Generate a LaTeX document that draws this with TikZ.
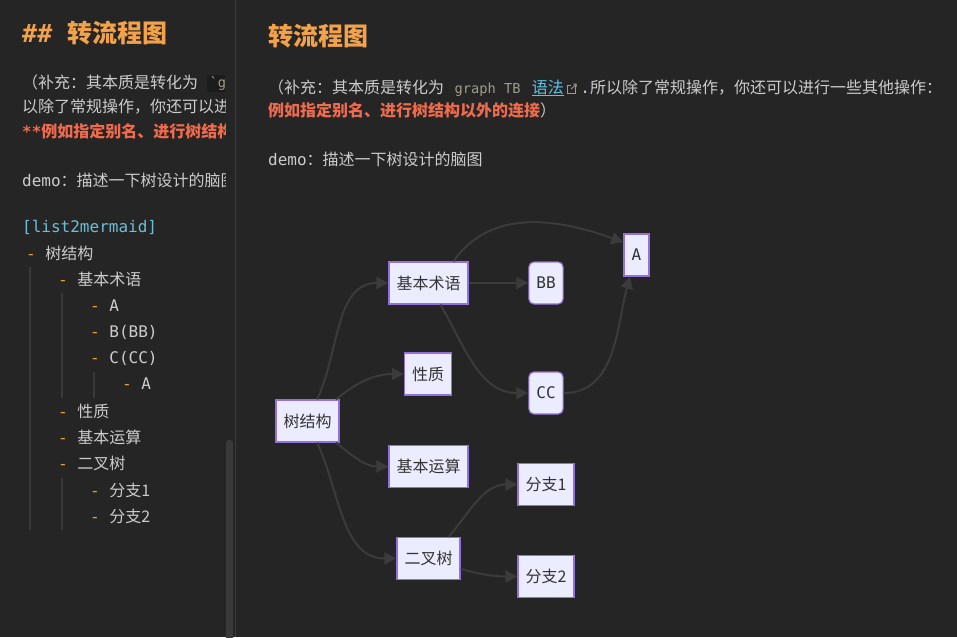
\documentclass[tikz,border=0pt]{standalone}
\usepackage{fontspec}
\setmainfont{Noto Sans CJK SC}
\setmonofont{DejaVu Sans Mono}
\usetikzlibrary{arrows.meta}
\usetikzlibrary{positioning}

\definecolor{bgcol}{HTML}{252525}
\definecolor{txtcol}{HTML}{CCCCCC}
\definecolor{headcol}{HTML}{F2A24A}
\definecolor{redcol}{HTML}{EE6B4D}
\definecolor{cyancol}{HTML}{6CBFD6}
\definecolor{linkcol}{HTML}{5EC4E4}
\definecolor{dashcol}{HTML}{E5A823}
\definecolor{codecol}{HTML}{A09C8C}
\definecolor{codebg}{HTML}{1C1C1C}
\definecolor{nodefill}{HTML}{ECECFF}
\definecolor{nodeline}{HTML}{9370DB}
\definecolor{nodetext}{HTML}{333333}
\definecolor{edgecol}{HTML}{3B3B3B}
\definecolor{barcol}{HTML}{3A3A3A}

\begin{document}
\begin{tikzpicture}[x=1pt,y=1pt,
 body/.style={text=txtcol, font=\fontsize{16}{19}\selectfont, inner sep=0pt, anchor=west},
 head/.style={text=headcol, font=\fontsize{25}{30}\selectfont\bfseries, inner sep=0pt, anchor=west},
 redbold/.style={body, text=redcol, font=\fontsize{16}{19}\selectfont\bfseries},
 code/.style={text=codecol, font=\fontsize{13.7}{16}\selectfont\ttfamily, inner sep=0pt},
 guide/.style={barcol, line width=1.5pt},
 box/.style={draw=nodeline, line width=1.2pt, fill=nodefill, text=nodetext, font=\fontsize{16}{19}\selectfont, minimum height=42pt, inner xsep=7.5pt},
 rbox/.style={box, rounded corners=5pt, minimum width=34pt, font=\fontsize{16}{19}\selectfont\ttfamily},
 edge/.style={draw=edgecol, line width=2pt, -{Triangle[length=12pt,width=12pt]}}]
\useasboundingbox (0,0) rectangle (957,-637);
\fill[bgcol] (0,0) rectangle (957,-637);
\begin{scope}
\clip (0,0) rectangle (225,-637);
\node[head] (lhead) at (22,-33) {\texttt{\#\# }转流程图};
\fill[codebg] (207,-75) rectangle (240,-92);
\node[body] (lline1) at (22,-82) {（补充：其本质是转化为};
\node[code, anchor=west] (lcode) at (209.5,-83) {`g};
\node[body] (lline2) at (22,-107) {以除了常规操作，你还可以进};
\node[redbold] (lline3) at (22,-131) {\texttt{**}例如指定别名、进行树结构};
\node[body] (ldemo) at (22,-180) {\texttt{demo}：描述一下树设计的脑图};
\node[body, text=cyancol] (lmd) at (22,-227) {\texttt{[list2mermaid]}};
\foreach \l/\y/\t in {0/253/树结构, 1/279/基本术语, 2/306/\texttt{A}, 2/332/\texttt{B(BB)}, 2/358/\texttt{C(CC)}, 3/384/\texttt{A}, 1/411/性质, 1/437/基本运算, 1/463/二叉树, 2/490/分支1, 2/516/分支2} {
 \node[body] at (26+32*\l,-\y) {\textcolor{dashcol}{\texttt{-}}\texttt{ }\t};
}
\draw[guide] (30,-267) -- (30,-530);
\draw[guide] (62,-293) -- (62,-398);
\draw[guide] (62,-478) -- (62,-530);
\draw[guide] (94,-372) -- (94,-398);
\end{scope}
\fill[barcol, rounded corners=3pt] (226,-440) rectangle (233,-645);
\draw[barcol, line width=1pt] (235.5,0) -- (235.5,-637);

\node[head] (rhead) at (268,-36) {转流程图};
\node[body] (rline1) at (268,-87) {（补充：其本质是转化为};
\node[code, base right=10pt of rline1] (gtb) {graph TB};
\node[body, text=linkcol, base right=11pt of gtb] (lnk) {语法};
\draw[linkcol, line width=0.8pt] ([yshift=-2]lnk.base west) -- ([yshift=-2]lnk.base east);
\draw[codecol, line width=0.8pt] ([xshift=11,yshift=7]lnk.base east) -- ([xshift=11,yshift=0]lnk.base east) -- ([xshift=3,yshift=0]lnk.base east) -- ([xshift=3,yshift=8]lnk.base east) -- ([xshift=7,yshift=8]lnk.base east);
\draw[codecol, line width=0.8pt] ([xshift=7,yshift=4]lnk.base east) -- ([xshift=12,yshift=9]lnk.base east) ([xshift=9,yshift=9]lnk.base east) -- ([xshift=12,yshift=9]lnk.base east) -- ([xshift=12,yshift=6]lnk.base east);
\node[body, base right=16pt of lnk] (rline1b) {\texttt{.}所以除了常规操作，你还可以进行一些其他操作：};
\node[body] (rline2) at (268,-110) {{\bfseries\color{redcol}例如指定别名、进行树结构以外的连接}）};
\node[body] (rdemo) at (268,-159) {\texttt{demo}：描述一下树设计的脑图};

\node[box] (tree) at (307.5,-421) {树结构};
\node[box] (term) at (428.5,-283) {基本术语};
\node[box] (prop) at (428,-374) {性质};
\node[box] (ops) at (428.5,-466.5) {基本运算};
\node[box] (bin) at (428.5,-558.5) {二叉树};
\node[rbox] (bb) at (546,-283) {BB};
\node[rbox] (cc) at (546,-393) {CC};
\node[box, minimum width=25pt, inner xsep=4pt, font=\fontsize{16}{19}\selectfont\ttfamily] (a) at (636.5,-255) {A};
\node[box] (b1) at (546,-484.5) {分支1};
\node[box] (b2) at (546,-576.5) {分支2};

\draw[edge] (tree.66) to[out=65,in=180] (term.west);
\draw[edge] (tree.37) to[out=40,in=180] (prop.west);
\draw[edge] (tree.-37) to[out=-40,in=180] (ops.west);
\draw[edge] (tree.-66) to[out=-65,in=180] (bin.west);
\draw[edge] (term.41) to[out=55,in=160] (a.136);
\draw[edge] (term) -- (bb);
\draw[edge] (term.-61) to[out=-60,in=180] (cc.west);
\draw[edge] (cc.east) to[out=0,in=-105] (a.-107);
\draw[edge] (bin.47) to[out=50,in=180] (b1.west);
\draw[edge] (bin.-18) to[out=-15,in=180] (b2.west);
\end{tikzpicture}
\end{document}
